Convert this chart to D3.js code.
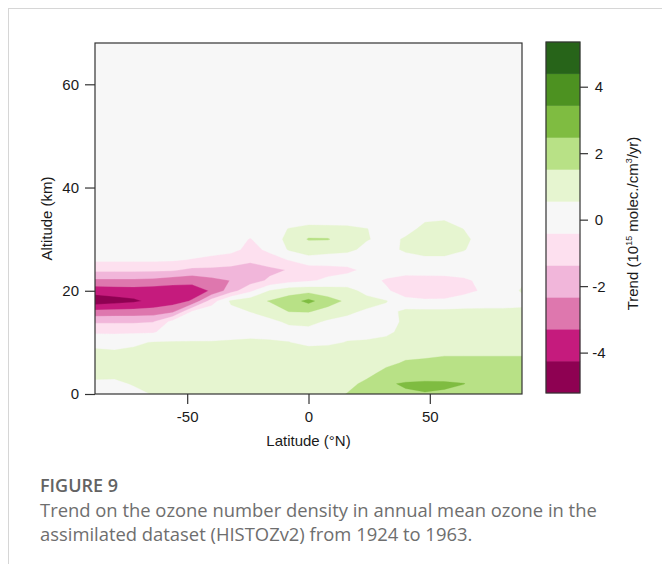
<!DOCTYPE html>
<html>
<head>
<meta charset="utf-8">
<script src="https://cdn.jsdelivr.net/npm/d3@7"></script>
<style>
  html, body { margin: 0; padding: 0; background: #fff; }
  svg { display: block; }
</style>
</head>
<body>
<svg id="fig" width="662" height="564"></svg>
<script>
// Grid of the zonal-mean trend field: columns are latitudes, rows are altitudes
const latitudes = [-88, -80, -72, -64, -56, -48, -40, -32, -24, -16, -8, 0, 8, 16, 24, 32, 40, 48, 56, 64, 72, 80, 88];
const altitudes = [0, 2, 4, 6, 8, 10, 12, 14, 16, 18, 20, 22, 24, 26, 28, 30, 32, 34, 68];

// Trend in 10^15 molec./cm^3/yr, one row per altitude (km)
const trend = [
  /*  0 */ [0.1, 0.15, 0.35, 0.6, 0.6, 0.7, 0.75, 0.8, 0.8, 0.85, 0.9, 1.0, 1.2, 1.55, 1.65, 2.2, 2.4, 2.45, 2.4, 2.2, 1.9, 1.8, 1.75],
  /*  2 */ [0.4, 0.4, 0.62, 0.65, 0.72, 0.8, 0.85, 0.85, 0.85, 0.9, 0.95, 1.05, 1.3, 1.3, 1.7, 2.4, 2.55, 2.6, 2.58, 2.5, 2.2, 1.95, 1.9],
  /*  4 */ [0.8, 0.75, 0.65, 0.7, 0.75, 0.8, 0.85, 0.85, 0.85, 0.9, 0.95, 1.0, 1.1, 1.1, 1.3, 1.75, 2.05, 2.1, 2.1, 2.05, 1.95, 1.9, 1.9],
  /*  6 */ [0.75, 0.75, 0.7, 0.72, 0.75, 0.8, 0.82, 0.85, 0.85, 0.9, 0.95, 0.95, 1.0, 1.0, 1.05, 1.35, 1.6, 1.65, 1.72, 1.72, 1.72, 1.72, 1.72],
  /*  8 */ [0.7, 0.65, 0.7, 0.7, 0.7, 0.75, 0.78, 0.8, 0.82, 0.85, 0.9, 0.9, 0.95, 1.0, 0.95, 1.1, 1.3, 1.35, 1.42, 1.42, 1.42, 1.42, 1.42],
  /* 10 */ [0.35, 0.3, 0.45, 0.6, 0.6, 0.6, 0.6, 0.65, 0.7, 0.65, 0.58, 0.35, 0.4, 0.6, 0.65, 0.85, 1.05, 1.1, 1.1, 1.1, 1.1, 1.1, 1.1],
  /* 12 */ [-0.55, -0.55, -0.55, -0.5, 0.1, 0.2, 0.25, 0.25, 0.3, 0.3, 0.25, 0.2, 0.2, 0.3, 0.3, 0.35, 0.85, 0.9, 0.9, 0.9, 0.9, 0.9, 0.9],
  /* 14 */ [-1.5, -1.5, -1.5, -1.4, -0.1, 0.05, 0.2, 0.15, 0.2, 0.35, 0.7, 0.85, 0.4, 0.35, 0.2, 0.15, 0.75, 0.8, 0.8, 0.8, 0.8, 0.8, 0.8],
  /* 16 */ [-3.05, -3.0, -2.95, -2.9, -2.6, -0.36, 0.2, 0.3, 0.58, 0.95, 1.55, 1.58, 1.2, 0.7, 0.45, 0.25, 0.75, 0.75, 0.75, 0.75, 0.75, 0.75, 0.75],
  /* 18 */ [-4.8, -4.6, -4.4, -4.0, -3.7, -3.2, -0.9, 0.7, 1.1, 1.58, 2.0, 2.75, 1.9, 1.35, 0.85, 0.62, -0.2, -0.3, -0.3, 0.0, 0.1, 0.1, 0.25],
  /* 20 */ [-3.9, -3.8, -3.75, -3.8, -3.8, -3.7, -3.2, -1.8, -0.6, 0.6, 1.1, 1.2, 1.0, 0.85, 0.3, -0.3, -0.75, -0.8, -0.75, -0.65, -0.3, 0.0, 0.66],
  /* 22 */ [-2.5, -2.5, -2.5, -2.6, -2.85, -3.0, -2.6, -2.3, -1.8, -1.2, -0.75, -0.55, -0.2, 0.0, -0.1, -0.5, -0.7, -0.75, -0.7, -0.55, -0.2, 0.0, 0.4],
  /* 24 */ [-1.2, -1.2, -1.2, -1.2, -1.25, -1.6, -1.6, -1.65, -2.0, -1.6, -1.3, -1.0, -0.75, -0.6, -0.2, 0.0, -0.1, 0.0, -0.05, 0.0, 0.0, 0.0, 0.0],
  /* 26 */ [-0.25, -0.25, -0.25, -0.25, -0.3, -0.45, -0.65, -0.9, -1.1, -0.8, -0.35, 0.3, 0.1, 0.0, 0.0, 0.1, 0.2, 0.45, 0.45, 0.3, 0.1, 0.0, 0.0],
  /* 28 */ [0, 0, 0, 0, 0, 0, 0, -0.1, -0.7, -0.2, 0.65, 0.9, 0.9, 0.8, 0.3, 0.25, 0.7, 0.75, 0.75, 0.6, 0.25, 0.1, 0],
  /* 30 */ [0, 0, 0, 0, 0, 0, 0, 0, -0.45, 0.2, 0.75, 1.6, 1.58, 1.0, 0.62, 0.3, 0.65, 0.85, 0.85, 0.7, 0.3, 0.1, 0],
  /* 32 */ [0, 0, 0, 0, 0, 0, 0, 0, 0, 0.1, 0.6, 0.9, 0.85, 0.8, 0.58, 0.25, 0.3, 0.75, 0.8, 0.55, 0.2, 0.05, 0],
  /* 34 */ [0, 0, 0, 0, 0, 0, 0, 0, 0, 0, 0, 0, 0, 0, 0, 0, 0, 0.45, 0.5, 0.2, 0, 0, 0],
  /* 68 */ [0, 0, 0, 0, 0, 0, 0, 0, 0, 0, 0, 0, 0, 0, 0, 0, 0, 0, 0, 0, 0, 0, 0]
];

// Filled-contour class boundaries and their colours (pink = loss, green = gain)
const levels = [-5.2, -4.24, -3.28, -2.32, -1.36, -0.4, 0.56, 1.52, 2.48, 3.44, 4.4, 5.36];
const levelColors = ["#8e0152", "#c51b7d", "#de77ae", "#f1b6da", "#fde0ef", "#f7f7f7",
                     "#e6f5d0", "#b8e186", "#7fbc41", "#4d9221", "#276419"];

const latTicks = [-50, 0, 50];
const altTicks = [0, 20, 40, 60];
const keyTicks = [-4, -2, 0, 2, 4];

const svg = d3.select("#fig");
const axisFont = "'Liberation Sans', Arial, sans-serif";
const axisSize = 15;
const inkColor = "#1a1a1a";
const plainNumber = d => String(d);

// Figure frame
svg.append("line").attr("x1", 8).attr("x2", 662).attr("y1", 8.5).attr("y2", 8.5)
  .attr("stroke", "#d6d6d6").attr("stroke-width", 1);
svg.append("line").attr("x1", 8.5).attr("x2", 8.5).attr("y1", 8).attr("y2", 564)
  .attr("stroke", "#d6d6d6").attr("stroke-width", 1);

// Plot scales
const plot = { left: 95, right: 522, top: 43, bottom: 394 };
const x = d3.scaleLinear().domain([-88, 88]).range([plot.left, plot.right]);
const y = d3.scaleLinear().domain([0, 68]).range([plot.bottom, plot.top]);

svg.append("clipPath").attr("id", "plotClip")
  .append("rect").attr("x", plot.left).attr("y", plot.top)
  .attr("width", plot.right - plot.left).attr("height", plot.bottom - plot.top);

// Filled contours computed on the grid, then mapped from grid space to lat/alt
const nx = latitudes.length, ny = altitudes.length;
const bands = d3.contours()
  .size([nx, ny])
  .thresholds(levels.slice(0, -1))(trend.flat());

const gx = d3.scaleLinear().domain(d3.range(nx)).range(latitudes).clamp(true);
const gy = d3.scaleLinear().domain(d3.range(ny)).range(altitudes).clamp(true);
const gridToPlot = d3.geoTransform({
  point(px, py) { this.stream.point(x(gx(px - 0.5)), y(gy(py - 0.5))); }
});
const path = d3.geoPath(gridToPlot);

svg.append("g").attr("clip-path", "url(#plotClip)")
  .selectAll("path")
  .data(bands)
  .join("path")
  .attr("d", path)
  .attr("fill", (d, i) => levelColors[i])
  .attr("stroke", (d, i) => levelColors[i])
  .attr("stroke-width", 0.3);

// Plot box
svg.append("rect")
  .attr("x", plot.left).attr("y", plot.top)
  .attr("width", plot.right - plot.left).attr("height", plot.bottom - plot.top)
  .attr("fill", "none").attr("stroke", "#333").attr("stroke-width", 1.2);

// Axes
const yAxis = svg.append("g")
  .attr("transform", `translate(${plot.left},0)`)
  .call(d3.axisLeft(y).tickValues(altTicks).tickFormat(plainNumber).tickSize(10).tickPadding(6));
const xAxis = svg.append("g")
  .attr("transform", `translate(0,${plot.bottom})`)
  .call(d3.axisBottom(x).tickValues(latTicks).tickFormat(plainNumber).tickSize(10).tickPadding(7));
[yAxis, xAxis].forEach(g => {
  g.select(".domain").remove();
  g.selectAll(".tick line").attr("stroke", "#333").attr("stroke-width", 1.2);
  g.selectAll(".tick text").attr("font-family", axisFont).attr("font-size", axisSize)
    .attr("fill", inkColor);
});

svg.append("text")
  .attr("transform", `translate(52,${(plot.top + plot.bottom) / 2}) rotate(-90)`)
  .attr("text-anchor", "middle")
  .attr("font-family", axisFont).attr("font-size", axisSize).attr("fill", inkColor)
  .text("Altitude (km)");

svg.append("text")
  .attr("x", x(0)).attr("y", 446)
  .attr("text-anchor", "middle")
  .attr("font-family", axisFont).attr("font-size", axisSize).attr("fill", inkColor)
  .text("Latitude (°N)");

// Colour key
const key = { left: 546, right: 580, top: 42, bottom: 393 };
const ky = d3.scaleLinear().domain([levels[0], levels[levels.length - 1]]).range([key.bottom, key.top]);

svg.append("g").selectAll("rect")
  .data(levelColors)
  .join("rect")
  .attr("x", key.left)
  .attr("width", key.right - key.left)
  .attr("y", (d, i) => ky(levels[i + 1]))
  .attr("height", (d, i) => ky(levels[i]) - ky(levels[i + 1]))
  .attr("fill", d => d)
  .attr("stroke", d => d).attr("stroke-width", 0.3);

svg.append("rect")
  .attr("x", key.left).attr("y", key.top)
  .attr("width", key.right - key.left).attr("height", key.bottom - key.top)
  .attr("fill", "none").attr("stroke", "#333").attr("stroke-width", 1.2);

const keyAxis = svg.append("g").selectAll("g")
  .data(keyTicks)
  .join("g")
  .attr("transform", d => `translate(0,${ky(d)})`);
keyAxis.append("line")
  .attr("x1", key.right).attr("x2", key.right + 8)
  .attr("stroke", "#333").attr("stroke-width", 1.2);
keyAxis.append("text")
  .attr("x", 599).attr("dy", "0.35em")
  .attr("text-anchor", "middle")
  .attr("font-family", axisFont).attr("font-size", axisSize).attr("fill", inkColor)
  .text(plainNumber);

const keyTitle = svg.append("text")
  .attr("transform", `translate(638,${(key.top + key.bottom) / 2 + 6}) rotate(-90)`)
  .attr("text-anchor", "middle")
  .attr("font-family", axisFont).attr("font-size", axisSize).attr("fill", inkColor);
keyTitle.append("tspan").text("Trend (10");
keyTitle.append("tspan").attr("font-size", 9).attr("dy", -6).text("15");
keyTitle.append("tspan").attr("dy", 6).text(" molec./cm");
keyTitle.append("tspan").attr("font-size", 9).attr("dy", -6).text("3");
keyTitle.append("tspan").attr("dy", 6).text("/yr)");

// Caption
const captionFont = "'Open Sans', 'Noto Sans', sans-serif";
svg.append("text")
  .attr("x", 40).attr("y", 492)
  .attr("font-family", captionFont).attr("font-size", 18).attr("font-weight", 600)
  .attr("fill", "#636363")
  .text("FIGURE 9");
const captionLines = [
  "Trend on the ozone number density in annual mean ozone in the",
  "assimilated dataset (HISTOZv2) from 1924 to 1963."
];
svg.append("g").selectAll("text")
  .data(captionLines)
  .join("text")
  .attr("x", 40).attr("y", (d, i) => 517 + i * 24)
  .attr("font-family", captionFont).attr("font-size", 18.4)
  .attr("fill", "#6e6e6e")
  .text(d => d);
</script>
</body>
</html>
